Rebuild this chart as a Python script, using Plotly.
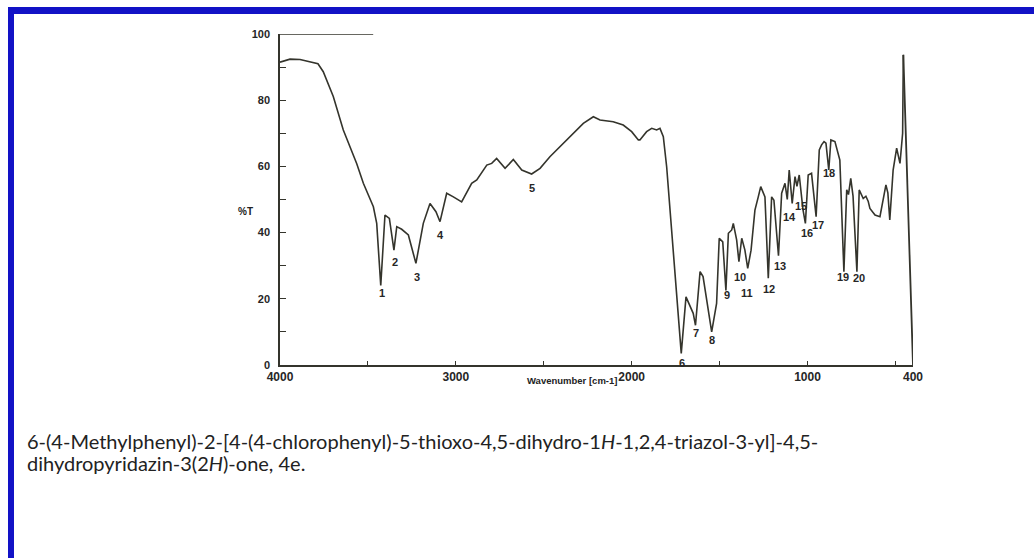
import plotly.graph_objects as go

# IR spectrum
wavenumber = [4000, 3943, 3886, 3820, 3784, 3754, 3697, 3640, 3564, 3526, 3469, 3450, 3427,
              3403, 3378, 3352, 3336, 3308, 3270, 3227, 3185, 3147, 3113, 3090, 3052, 3014,
              2967, 2910, 2881, 2824, 2796, 2768, 2720, 2673, 2625, 2569, 2521, 2465, 2389,
              2332, 2275, 2218, 2180, 2105, 2048, 2000, 1962, 1953, 1915, 1886, 1858, 1839,
              1820, 1801, 1763, 1718, 1691, 1668, 1650, 1637, 1611, 1594, 1545, 1517, 1502,
              1482, 1464, 1450, 1431, 1422, 1403, 1390, 1374, 1356, 1340, 1321, 1299, 1280,
              1266, 1242, 1223, 1204, 1191, 1165, 1147, 1128, 1115, 1104, 1087, 1071, 1060,
              1047, 1033, 1026, 1012, 996, 977, 951, 933, 920, 906, 895, 879, 867, 844, 816,
              793, 777, 767, 754, 741, 719, 706, 683, 668, 655, 645, 616, 588, 554, 543, 532,
              513, 493, 474, 459, 455]
transmittance = [91.5, 92.4, 92.3, 91.6, 91.0, 88.6, 81.1, 71.0, 60.9, 54.9, 47.8, 42.8, 24.0,
                 45.3, 44.3, 34.7, 41.8, 41.0, 39.3, 30.7, 42.8, 48.8, 46.3, 43.3, 51.9, 50.8,
                 49.3, 54.9, 55.9, 60.4, 60.9, 62.4, 59.4, 62.1, 58.9, 57.7, 59.4, 62.9, 67.0,
                 70.0, 73.0, 75.0, 74.0, 73.5, 72.5, 70.5, 68.0, 68.0, 70.5, 71.5, 71.0, 71.5,
                 69.0, 59.9, 34.7, 3.5, 20.6, 17.6, 15.6, 12.0, 28.2, 26.7, 10.0, 18.6, 38.3,
                 37.2, 22.5, 39.8, 40.8, 42.8, 37.8, 31.2, 38.3, 34.7, 29.2, 34.7, 46.8, 50.8,
                 53.9, 50.8, 26.2, 50.8, 49.8, 33.0, 51.9, 54.9, 50.0, 58.9, 48.8, 56.9, 54.0,
                 57.4, 48.8, 47.0, 42.8, 57.4, 57.9, 44.8, 65.0, 66.5, 67.5, 67.0, 58.9, 68.0,
                 67.5, 61.9, 28.2, 52.9, 51.5, 56.4, 51.0, 28.2, 52.9, 50.3, 51.0, 49.5, 47.3,
                 45.3, 44.8, 54.4, 52.0, 43.8, 58.9, 65.5, 60.9, 70.0, 93.7]

# Peak labels: number, wavenumber, %T where the number sits
peak_ids = [str(i) for i in range(1, 21)]
peak_wn = [3422, 3346, 3223, 3086, 2569, 1716, 1636, 1545, 1460, 1384, 1342, 1217, 1157,
           1104, 1036, 1004, 943, 878, 797, 705]
peak_label_t = [21.8, 31.2, 26.7, 39.3, 53.4, 0.5, 9.6, 7.6, 21.1, 26.7, 21.7, 22.9, 30.0,
                44.8, 48.0, 39.8, 42.3, 57.9, 26.7, 26.2]

x_tickvals = [4000, 3500, 3000, 2500, 2000, 1500, 1000, 500, 400]
x_ticktext = ["4000", "", "3000", "", "2000", "", "1000", "", "400"]
y_tickvals = [0, 10, 20, 30, 40, 50, 60, 70, 80, 90, 100]
y_ticktext = ["0", "", "20", "", "40", "", "60", "", "80", "", "100"]

caption_lines = [
    "6-(4-Methylphenyl)-2-[4-(4-chlorophenyl)-5-thioxo-4,5-dihydro-1<i>H</i>-1,2,4-triazol-3-yl]-4,5-",
    "dihydropyridazin-3(2<i>H</i>)-one, 4e.",
]

W, H = 1034, 558
L, R, T, B = 280, 121, 34, 193
pw, ph = W - L - R, H - T - B


def px(xp):
    return (xp - L) / pw


def py(yp):
    return (H - B - yp) / ph


ink = "#34342c"
sans = "Liberation Sans, Arial"
lab_font = dict(family=sans, size=11, color="#262626", weight="bold")

fig = go.Figure()
fig.add_trace(go.Scatter(x=wavenumber, y=transmittance, mode="lines",
                         line=dict(color=ink, width=1.6), hoverinfo="skip"))

for lab, xw, yt in zip(peak_ids, peak_wn, peak_label_t):
    fig.add_annotation(x=xw, y=yt, text=lab, showarrow=False, font=lab_font)

# right frame edge joining the last point down to the axis
fig.add_shape(type="line", x0=wavenumber[-1], y0=transmittance[-1], x1=400, y1=0,
              line=dict(color=ink, width=1.8))
# short top frame segment
fig.add_shape(type="line", x0=4000, y0=100, x1=3470, y1=100,
              line=dict(color=ink, width=1.5))

# blue page frame (left and top)
blue = "#1212c6"
fig.add_shape(type="rect", xref="paper", yref="paper", x0=px(8), x1=px(14), y0=py(558), y1=py(7),
              fillcolor=blue, line=dict(width=0), layer="above")
fig.add_shape(type="rect", xref="paper", yref="paper", x0=px(8), x1=px(1034), y0=py(14), y1=py(7),
              fillcolor=blue, line=dict(width=0), layer="above")

fig.add_annotation(xref="paper", yref="paper", x=px(236), y=py(211), text="%T", showarrow=False,
                   font=dict(family=sans, size=10, color="#222", weight="bold"))
fig.add_annotation(xref="paper", yref="paper", x=px(572), y=py(388), text="Wavenumber [cm-1]",
                   showarrow=False, font=dict(family=sans, size=9.5, color="#222", weight="bold"))
for line_text, yc in zip(caption_lines, [441, 463]):
    fig.add_annotation(xref="paper", yref="paper", x=px(25), y=py(yc), xanchor="left",
                       yanchor="middle", align="left", text=line_text, showarrow=False,
                       font=dict(family="Lato", size=20, color="#222"))

fig.update_layout(
    width=W, height=H, margin=dict(l=L, r=R, t=T, b=B, pad=0),
    paper_bgcolor="white", plot_bgcolor="white", showlegend=False,
    xaxis=dict(range=[4000, 400], showgrid=False, zeroline=False, showline=True,
               linecolor=ink, linewidth=1.5, ticks="inside", ticklen=4, tickcolor=ink,
               tickvals=x_tickvals, ticktext=x_ticktext,
               tickfont=dict(family=sans, size=12, color="#262626", weight="bold")),
    yaxis=dict(range=[0, 100], showgrid=False, zeroline=False, showline=True,
               linecolor=ink, linewidth=1.5, ticks="inside", ticklen=6, tickcolor=ink,
               ticklabelstandoff=6,
               tickvals=y_tickvals, ticktext=y_ticktext,
               tickfont=dict(family=sans, size=11, color="#262626", weight="bold")),
)

fig.write_html("out.html")
